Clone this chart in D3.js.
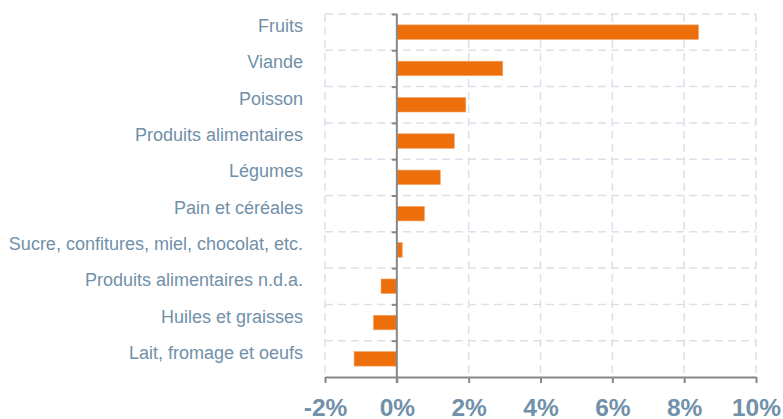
<!DOCTYPE html>
<html>
<head>
<meta charset="utf-8">
<script src="https://cdn.jsdelivr.net/npm/d3@7"></script>
<style>
  body { margin: 0; background: #fff; }
  svg { display: block; font-family: "Liberation Sans", Arial, sans-serif; }
</style>
</head>
<body>
<svg width="783" height="419"></svg>
<script>
var svg = d3.select('svg');

const categories = [
  'Fruits', 'Viande', 'Poisson', 'Produits alimentaires', 'Légumes',
  'Pain et céréales', 'Sucre, confitures, miel, chocolat, etc.',
  'Produits alimentaires n.d.a.', 'Huiles et graisses', 'Lait, fromage et oeufs'
];
const values = [8.4, 2.95, 1.92, 1.6, 1.21, 0.77, 0.15, -0.44, -0.65, -1.19];
const xTicks = [-2, 0, 2, 4, 6, 8, 10];

const data = categories.map((c, i) => ({cat: c, value: values[i]}));

const plot = {left: 325, right: 756, top: 14, bottom: 377};
const labelColor = '#7190a9';
const gridColor = '#e2ddec';
const axisColor = '#888888';

const xScale = d3.scaleLinear().domain([-2, 10]).range([plot.left, plot.right]);

const yBand = d3.scaleBand()
  .domain(categories)
  .range([plot.top, plot.bottom])
  .padding(0);

const step = yBand.step();
const barH = step * 0.4;

// grid
const grid = svg.append('g');
grid.selectAll('line.v').data(xTicks)
  .enter().append('line').attr('class', 'v')
  .attr('x1', d => xScale(d)).attr('x2', d => xScale(d))
  .attr('y1', plot.top).attr('y2', plot.bottom)
  .attr('stroke', gridColor).attr('stroke-width', 1.5)
  .attr('stroke-dasharray', '8,5');
grid.selectAll('line.h').data(categories)
  .enter().append('line').attr('class', 'h')
  .attr('x1', plot.left).attr('x2', plot.right)
  .attr('y1', d => yBand(d)).attr('y2', d => yBand(d))
  .attr('stroke', gridColor).attr('stroke-width', 1.5)
  .attr('stroke-dasharray', '8,5');

// bars
svg.append('g').selectAll('rect').data(data)
  .enter().append('rect')
  .attr('x', d => xScale(Math.min(0, d.value)))
  .attr('width', d => Math.abs(xScale(d.value) - xScale(0)))
  .attr('y', d => yBand(d.cat) + (step - barH) / 2)
  .attr('height', barH)
  .attr('fill', '#ec6f0b')
  .attr('stroke', '#f5a466')
  .attr('stroke-width', 0.6);

// x axis
const xAxis = svg.append('g')
  .attr('transform', `translate(0,${plot.bottom})`)
  .call(d3.axisBottom(xScale).tickValues(xTicks).tickSize(6).tickSizeOuter(0)
    .tickFormat(d => d + '%'));
xAxis.select('.domain').attr('stroke', axisColor).attr('stroke-width', 2);
xAxis.selectAll('.tick line').attr('stroke', axisColor).attr('stroke-width', 2);
xAxis.selectAll('.tick text')
  .attr('fill', labelColor)
  .attr('y', 39)
  .attr('dy', 0)
  .style('font-size', '24.5px')
  .style('font-weight', 'bold')
  .style('font-family', '"Liberation Sans", Arial, sans-serif');

// y axis at zero
const yTickScale = d3.scalePoint().domain(d3.range(categories.length + 1)).range([plot.top, plot.bottom]);
const yAxis = svg.append('g')
  .attr('transform', `translate(${xScale(0)},0)`)
  .call(d3.axisLeft(yTickScale).tickValues(d3.range(categories.length)).tickSize(5).tickSizeOuter(0).tickFormat(''));
yAxis.select('.domain').attr('stroke', axisColor).attr('stroke-width', 2)
  .attr('d', `M0,${plot.top}V${plot.bottom + 6}`);
yAxis.selectAll('.tick line').attr('stroke', axisColor).attr('stroke-width', 2);

// category labels
svg.append('g').selectAll('text').data(categories)
  .enter().append('text')
  .attr('x', 303)
  .attr('y', d => yBand(d) + step / 2)
  .attr('text-anchor', 'end')
  .attr('fill', labelColor)
  .style('font-size', '18px')
  .text(d => d);
</script>
</body>
</html>
